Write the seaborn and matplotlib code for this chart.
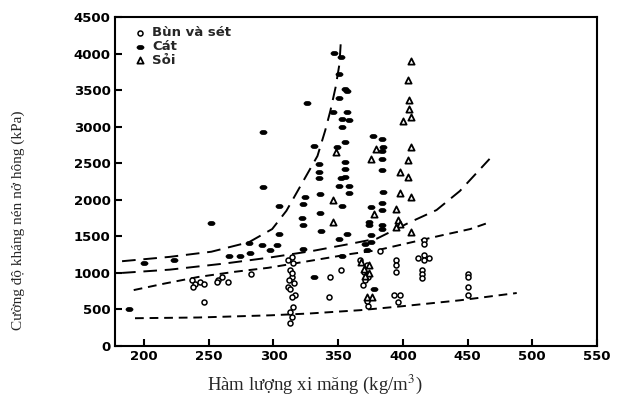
import numpy as np
import matplotlib
matplotlib.use("Agg")
import matplotlib.pyplot as plt
import seaborn as sns
import pandas as pd
from matplotlib.path import Path

# Bùn và sét (open circles)
bun_x = [237, 239, 243, 246, 238, 257, 260, 265, 256, 283, 246,
         314, 311, 315, 313, 314, 312, 316, 311, 313, 317, 314, 315, 313, 314, 313, 314,
         344, 352, 343, 367, 382,
         372, 370, 373, 371, 369, 373, 372,
         395, 395, 395, 393, 398, 396,
         416, 416, 412, 416, 420, 416, 415, 415, 415,
         450, 450, 450, 450]
bun_y = [900, 855, 877, 855, 810, 900, 945, 877, 877, 990, 605,
         1220, 1175, 1130, 1040, 945, 900, 860, 810, 780, 700, 675, 535, 470, 400, 310, 1000,
         945, 1045, 675, 1175, 1300,
         1105, 1015, 945, 900, 830, 545, 620,
         1180, 1105, 1015, 695, 695, 605,
         1445, 1400, 1210, 1240, 1210, 1175, 1035, 990, 930,
         990, 945, 810, 700]

# Cát (filled)
cat_x = [188, 200, 223, 252, 266, 274, 281, 282, 291, 292, 292, 297, 303, 304, 304,
         323, 323, 324, 322, 323, 326, 331, 331, 335, 335, 335, 336, 336, 337,
         347, 352, 351, 355, 357, 351, 346, 357, 353, 358, 353, 355, 349, 355, 355, 355,
         352, 351, 358, 358, 353, 351, 357, 353,
         377, 384, 385, 384, 384, 384, 385, 384, 375, 384, 374, 374, 384, 384, 375,
         371, 375, 372, 378]
cat_y = [500, 1130, 1180, 1680, 1230, 1230, 1410, 1270, 1380, 2180, 2930, 1320, 1380, 1530, 1915,
         1330, 1940, 2045, 1755, 1660, 3320, 2740, 945, 2490, 2380, 2300, 2075, 1820, 1575,
         4015, 3955, 3720, 3515, 3490, 3400, 3200, 3200, 3105, 3090, 2990, 2790, 2720, 2515, 2425,
         2310, 2300, 2195, 2195, 2090, 1910, 1470, 1535, 1230,
         2880, 2835, 2720, 2665, 2560, 2410, 2105, 1955, 1900, 1855, 1695, 1650, 1650, 1605, 1515,
         1400, 1425, 1310, 775]

# Sỏi (open triangles)
soi_x = [348, 346, 346,
         406, 404, 405, 405, 406, 400, 406, 404, 398, 404,
         379, 375, 398, 406, 378, 395, 396, 398, 395, 406,
         368, 374, 370, 374, 371, 372, 376]
soi_y = [2650, 2000, 1695,
         3900, 3640, 3370, 3240, 3140, 3075, 2720, 2540, 2380, 2310,
         2700, 2560, 2090, 2045, 1810, 1880, 1720, 1675, 1630, 1560,
         1150, 1105, 1060, 1000, 960, 675, 675]

# dashed trend curves
c1_x = [183, 220, 252, 281, 299, 310, 318, 326, 334, 340, 344, 348, 351, 352]
c1_y = [1160, 1220, 1290, 1420, 1600, 1850, 2100, 2350, 2600, 2950, 3220, 3540, 3860, 4150]
c2_x = [183, 220, 263, 297, 330, 360, 380, 405, 426, 444, 467]
c2_y = [1000, 1045, 1130, 1210, 1300, 1400, 1470, 1690, 1860, 2120, 2560]
c3_x = [192, 216, 242, 270, 296, 330, 360, 380, 429, 452, 465]
c3_y = [765, 855, 945, 1015, 1070, 1170, 1260, 1310, 1510, 1600, 1680]
c4_x = [193, 242, 298, 328, 367, 400, 444, 488]
c4_y = [380, 390, 420, 445, 490, 545, 625, 725]

x_ticks = [200, 250, 300, 350, 400, 450, 500, 550]
y_ticks = [0, 500, 1000, 1500, 2000, 2500, 3000, 3500, 4000, 4500]

sns.set_style("ticks")
plt.rcParams['font.family'] = ['DejaVu Sans']
plt.rcParams['mathtext.fontset'] = 'stix'

fig = plt.figure(figsize=(6.18, 4.05), dpi=100)
ax = fig.add_axes([0.186, 0.1457, 0.780, 0.812])

t = np.linspace(0, 2 * np.pi, 40)
ellipse = Path(np.column_stack([np.cos(t), 0.6 * np.sin(t)]), closed=True)

sns.scatterplot(x=bun_x, y=bun_y, ax=ax, marker='o', s=13, facecolor='white',
                edgecolor='black', linewidth=1.1, label='Bùn và sét', zorder=3)
sns.scatterplot(x=cat_x, y=cat_y, ax=ax, marker=ellipse, s=26, color='black',
                edgecolor='black', linewidth=0.5, label='Cát', zorder=3)
sns.scatterplot(x=soi_x, y=soi_y, ax=ax, marker='^', s=20, facecolor='white',
                edgecolor='black', linewidth=1.3, label='Sỏi', zorder=3)

curves = [(c1_x, c1_y, (0, (7, 4))), (c2_x, c2_y, (0, (7, 4))),
          (c3_x, c3_y, (0, (4.5, 3))), (c4_x, c4_y, (0, (4.5, 3)))]
for cx, cy, ls in curves:
    df = pd.DataFrame({'x': cx, 'y': cy})
    sns.lineplot(data=df, x='x', y='y', ax=ax, estimator=None, sort=False,
                 color='black', linewidth=1.4, linestyle=ls, zorder=2)

ax.set_xlim(177.5, 550)
ax.set_ylim(0, 4500)
ax.set_xticks(x_ticks)
ax.set_yticks(y_ticks)
ax.set_xlabel('')
ax.set_ylabel('')
ax.tick_params(direction='in', length=5, width=1.5, colors='black', pad=3)
for lbl in ax.get_xticklabels() + ax.get_yticklabels():
    lbl.set_fontweight('bold')
    lbl.set_fontsize(9.5)
for sp in ax.spines.values():
    sp.set_color('black')
    sp.set_linewidth(1.5)

leg = ax.legend(loc='upper left', bbox_to_anchor=(0.02, 1.0), frameon=False,
                prop={'weight': 'bold', 'size': 9.5}, labelspacing=0.05,
                handletextpad=0.4, handlelength=1.0, borderaxespad=0.3,
                markerscale=1.0)

fig.text(0.03, 0.455, 'Cường độ kháng nén nở hông (kPa)', rotation=90,
         family='Liberation Serif', fontsize=11, ha='center', va='center')
fig.text(0.51, 0.05, 'Hàm lượng xi măng (kg/m$^3$)', family='Liberation Serif',
         fontsize=13.5, ha='center', va='center')

fig.savefig('out.png', dpi=100)
